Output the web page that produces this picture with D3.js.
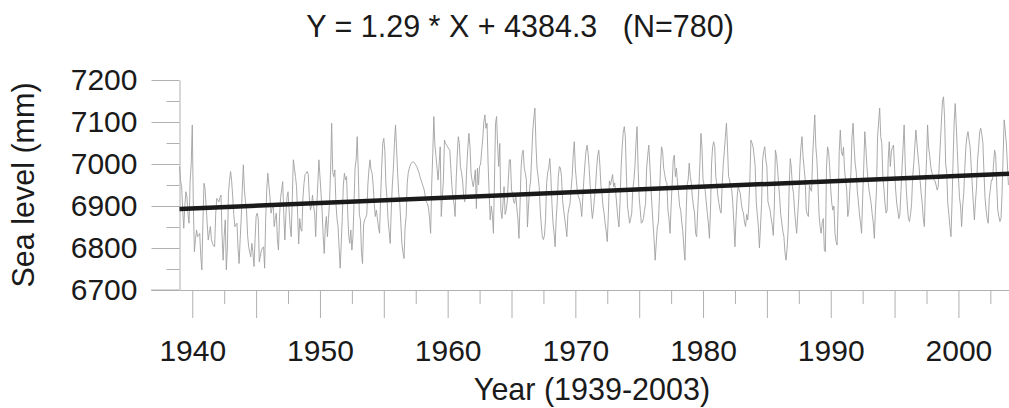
<!DOCTYPE html>
<html>
<head>
<meta charset="utf-8">
<script src="https://cdn.jsdelivr.net/npm/d3@7"></script>
<style>
  body { margin: 0; background: #fff; }
  text { font-family: 'Liberation Sans', Arial, sans-serif; fill: #1a1a1a; }
</style>
</head>
<body>
<div id="chart"></div>
<script>
// monthly mean sea level (mm), one row per year, Jan..Dec, 1939-2003
const startYear = 1939
const seaLevel = [
  6994,6960,6946,6890,6847,6900,6934,6922,6880,6859,6962,7000,
  7093,6900,6791,6820,6843,6827,6830,6835,6780,6748,6860,6954,
  6942,6900,6860,6819,6835,6851,6820,6811,6805,6803,6880,6918,
  6914,6910,6920,6926,6830,6771,6830,6867,6748,6800,6930,6960,
  6982,6960,6922,6880,6851,6855,6859,6800,6763,6820,6871,6940,
  6998,6938,6910,6890,6830,6803,6790,6779,6811,6790,6756,6820,
  6875,6883,6870,6767,6780,6795,6800,6803,6752,6870,6940,6978,
  6950,6922,6883,6895,6906,6851,6870,6883,6820,6795,6875,6920,
  6938,6958,6880,6819,6880,6920,6934,6890,6850,6827,6920,7010,
  6990,6970,6946,6880,6810,6870,6845,6840,6920,6954,6975,6978,
  6982,6975,6922,6890,6900,6926,6900,6883,6827,6900,6954,7010,
  6970,6930,6890,6830,6787,6850,6875,6827,6870,6910,6986,7097,
  6980,6970,6986,6906,6870,6851,6800,6752,6810,6875,6950,6978,
  6962,6970,6890,6830,6811,6843,6795,6827,6906,6990,7010,7065,
  6986,6880,6867,6790,6763,6855,6867,6872,6880,6950,6986,7010,
  6986,6978,6950,6906,6875,6890,6870,6850,6835,6918,6990,7049,
  7061,7030,6950,6918,6867,6840,6811,6890,6950,6990,7049,7093,
  7036,6978,6930,6906,6859,6810,6790,6775,6850,6875,6954,6980,
  6990,6998,7002,7005,7005,7002,6998,6994,6986,6980,6970,6962,
  6954,6946,6938,6922,6910,6906,6895,6870,6835,6950,7025,7113,
  7045,7020,6990,6962,7000,7041,6875,6920,6962,7057,7049,7045,
  7041,7036,7033,6990,6946,6920,6906,6875,6962,7020,7065,7049,
  6994,6980,6962,6925,6910,6930,6994,7040,7073,7041,6978,6960,
  6946,6962,6986,6894,6990,6950,6994,7000,7033,7060,7100,7117,
  7085,7097,7002,6930,6867,6900,6880,6835,6962,7097,7113,7041,
  6994,7049,6890,6870,6906,6946,6880,6890,6910,6962,7010,7010,
  6938,6930,6910,6906,6930,6895,6870,6823,6900,6990,7025,7033,
  6990,6978,6962,6850,6900,6940,6962,7020,7080,7110,7133,7045,
  6990,6970,6946,6890,6855,6827,6820,6830,6870,6954,6980,6990,
  7013,6970,6906,6860,6835,6803,6870,6910,6970,6994,6990,6970,
  6915,6890,6870,6851,6827,6880,6895,6906,6940,6970,7021,7053,
  6990,6960,6930,6922,6915,6900,6875,6920,6962,7000,7030,7045,
  7025,6990,6946,6900,6870,6890,6920,6946,6990,7020,7033,7000,
  6950,6930,6900,6883,6859,6840,6815,6880,6960,6950,6962,6975,
  6946,6955,6930,6900,6870,6850,6910,6990,7040,7075,7089,7065,
  6970,6900,6880,6859,6870,6883,6940,6960,6994,7050,7089,6990,
  6920,6890,6859,6862,6870,6890,6906,6990,7020,7045,7000,6946,
  6900,6859,6820,6771,6810,6850,6860,6920,6990,7041,7030,6990,
  6975,6960,6955,6890,6870,6835,6900,6954,7010,7021,6970,6990,
  6955,6930,6900,6890,6862,6840,6800,6771,6870,6950,6962,7002,
  6970,6954,6920,6900,6883,6835,6827,6890,6940,6998,7073,7040,
  6962,6950,6938,6910,6883,6860,6823,6890,7000,7041,7053,7041,
  6970,6950,6922,6906,6890,6883,6950,7000,7030,7065,7097,7040,
  6970,6962,6946,6938,6906,6855,6803,6870,6920,6946,6938,6930,
  6906,6890,6883,6860,6851,6880,6867,6900,6962,7057,7050,7041,
  7020,6994,6910,6880,6851,6800,6850,6906,7010,7030,7041,7010,
  6994,6910,6900,6890,6870,6855,6830,6900,7033,7020,6990,6954,
  6920,6880,6860,6840,6827,6790,6771,6800,6843,6950,7013,6990,
  6946,6930,6890,6860,6835,6880,6920,6994,7040,7065,7017,6990,
  6962,6890,6880,6875,6950,6940,6935,7017,7070,7117,7041,7010,
  6950,6880,6851,6835,6860,6870,6795,6791,6990,7041,7030,6994,
  6940,6906,6890,6900,6835,6815,6807,6906,7030,7081,7030,7020,
  7040,6985,6960,6940,6875,6890,6940,6980,7065,7097,7040,7000,
  6980,6935,6910,6880,6860,6835,6920,6990,7077,7040,6994,6962,
  6938,6922,6906,6880,6860,6823,6890,6938,7065,7100,7133,7065,
  7049,6970,6940,6906,6883,6890,7010,7053,6994,7030,7040,7045,
  6990,6938,6906,6890,6870,6880,6935,6990,7041,7093,7000,6940,
  6900,6870,6863,6880,6906,6970,7000,7041,7081,7050,7020,6994,
  6960,6930,6906,6870,6851,6940,7010,7093,7040,7020,6994,6980,
  6970,6962,6960,6950,6938,6946,7000,7050,7100,7150,7160,7110,
  7000,6980,6906,6880,6851,6827,6910,7010,7100,7144,7090,7030,
  6970,6920,6900,6851,6900,6930,6990,7040,7065,7077,7057,7040,
  6994,6950,6906,6867,6910,6945,7010,7040,7077,7085,7070,7049,
  6980,6920,6890,6870,6859,6920,6940,6962,6962,7000,7033,7020,
  6950,6890,6875,6863,6870,6930,7020,7105,7080,7050,7000,6950
]

// fitted trend, read at both ends of the plot
const trendYears = [1939, 2004]
const trendValues = [6893, 6977]

const yMajor = [6700, 6800, 6900, 7000, 7100, 7200]
const yMinor = [6750, 6850, 6950, 7050, 7150]
const xMajor = [1940, 1945, 1950, 1955, 1960, 1965, 1970, 1975, 1980, 1985, 1990, 1995, 2000]
const xMinor = [1942.5, 1947.5, 1952.5, 1957.5, 1962.5, 1967.5, 1972.5, 1977.5, 1982.5, 1987.5, 1992.5, 1997.5, 2002.5]

const width = 1009, height = 408
const axisColor = '#b0b0b0'

const svg = d3.select('#chart').append('svg')
  .attr('width', width)
  .attr('height', height)

const x = d3.scaleLinear().domain([1939, 2004]).range([179.5, 1009.5])
const y = d3.scaleLinear().domain([6700, 7200]).range([290, 80])

const points = seaLevel.map((v, i) => ({ t: startYear + i / 12, v: v }))

// y axis: major + minor ticks
const yAxis = svg.append('g')
  .attr('transform', 'translate(179.5,0)')
  .call(d3.axisLeft(y).tickValues(yMajor).tickSize(28).tickSizeOuter(0).tickPadding(14)
    .tickFormat(d3.format('d')))
yAxis.append('g')
  .call(d3.axisLeft(y).tickValues(yMinor).tickSize(13).tickFormat(''))
  .select('.domain').remove()

// x axis
const xAxis = svg.append('g')
  .attr('transform', 'translate(0,290)')
  .call(d3.axisBottom(x).tickValues(xMajor).tickSize(28).tickSizeOuter(0).tickPadding(22)
    .tickFormat(d => (d % 10 === 0 ? d : '')))
xAxis.append('g')
  .call(d3.axisBottom(x).tickValues(xMinor).tickSize(14).tickFormat(''))
  .select('.domain').remove()
// axis line continues left under the 6700 tick
xAxis.append('line')
  .attr('x1', 151).attr('x2', 179.5)
  .attr('stroke', axisColor)

svg.selectAll('.domain, .tick line')
  .attr('stroke', axisColor)
  .attr('stroke-width', 1)
svg.selectAll('.tick text')
  .style('font-size', '30px')
  .attr('fill', '#1a1a1a')

// data line
svg.append('path')
  .datum(points)
  .attr('fill', 'none')
  .attr('stroke', '#a0a0a0')
  .attr('stroke-width', 0.9)
  .attr('d', d3.line().x(d => x(d.t)).y(d => y(d.v)))

// trend line
svg.append('path')
  .datum(trendYears.map((t, i) => ({ t: t, v: trendValues[i] })))
  .attr('fill', 'none')
  .attr('stroke', '#1a1a1a')
  .attr('stroke-width', 4.5)
  .attr('d', d3.line().x(d => x(d.t)).y(d => y(d.v)))

// titles
svg.append('text')
  .attr('x', 520).attr('y', 37)
  .attr('text-anchor', 'middle')
  .attr('xml:space', 'preserve')
  .style('font-size', '30.5px')
  .text('Y = 1.29 * X + 4384.3   (N=780)')

svg.append('text')
  .attr('x', 592).attr('y', 400)
  .attr('text-anchor', 'middle')
  .style('font-size', '30.5px')
  .text('Year (1939-2003)')

svg.append('text')
  .attr('transform', 'translate(33.5,185) rotate(-90)')
  .attr('text-anchor', 'middle')
  .style('font-size', '30.5px')
  .text('Sea level (mm)')
</script>
</body>
</html>
